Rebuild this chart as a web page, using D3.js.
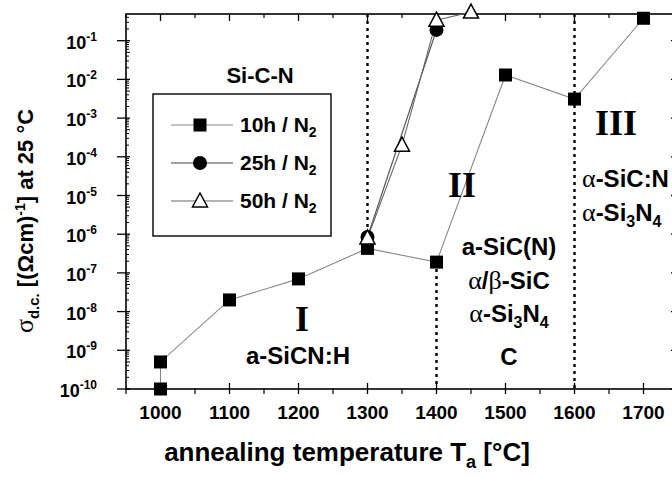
<!DOCTYPE html>
<html><head><meta charset="utf-8">
<script src="https://cdn.jsdelivr.net/npm/d3@7"></script>
<style>
html,body{margin:0;padding:0;background:#fff;}
svg text{font-family:"Liberation Sans",Arial,Helvetica,sans-serif;font-weight:bold;fill:#000;}
.serif{font-family:"Liberation Serif","Times New Roman",serif;font-weight:normal;}
.rom{font-family:"Liberation Serif","Times New Roman",serif;font-weight:bold;}
</style></head>
<body>
<svg id="c" width="672" height="477"></svg>
<script>
// ---- data ----
const temps10 = [1000, 1000, 1100, 1200, 1300, 1400, 1500, 1600, 1700];
const sigma10 = [1e-10, 5e-10, 2e-8, 7e-8, 4.3e-7, 1.9e-7, 1.3e-2, 3.1e-3, 0.38];
const temps25 = [1300, 1400];
const sigma25 = [8.5e-7, 0.19];
const temps50 = [1300, 1350, 1400, 1450];
const sigma50 = [8e-7, 2e-4, 0.34, 0.55];
const xTicks = [1000, 1100, 1200, 1300, 1400, 1500, 1600, 1700];
const yExponents = [-10, -9, -8, -7, -6, -5, -4, -3, -2, -1];
const seriesNames = ["10h / N", "25h / N", "50h / N"];
const boundaryTemps = [1300, 1400, 1600];

const svg = d3.select("#c");
const L = 126, R = 678, T = 14, B = 389;
const x = d3.scaleLinear().domain([950, 1750]).range([L, R]);
const y = d3.scaleLog().domain([1e-10, Math.pow(10, -0.31)]).range([B, T]);

// frame
svg.append("rect").attr("x", L).attr("y", T).attr("width", R - L).attr("height", B - T)
  .attr("fill", "none").attr("stroke", "#000").attr("stroke-width", 1.6);

// x ticks (bottom & top)
const minorX = d3.range(950, 1751, 50).filter(v => v % 100 !== 0);
const gx = svg.append("g");
xTicks.forEach(v => {
  gx.append("line").attr("x1", x(v)).attr("x2", x(v)).attr("y1", B - 6).attr("y2", B + 5).attr("stroke", "#000").attr("stroke-width", 1.3);
  gx.append("line").attr("x1", x(v)).attr("x2", x(v)).attr("y1", T).attr("y2", T + 7).attr("stroke", "#000").attr("stroke-width", 1.3);
  gx.append("text").attr("x", x(v)).attr("y", B + 30).attr("text-anchor", "middle").attr("font-size", 19).text(v);
});
minorX.forEach(v => {
  gx.append("line").attr("x1", x(v)).attr("x2", x(v)).attr("y1", B).attr("y2", B + 5).attr("stroke", "#000").attr("stroke-width", 1.2);
  gx.append("line").attr("x1", x(v)).attr("x2", x(v)).attr("y1", T).attr("y2", T + 4).attr("stroke", "#000").attr("stroke-width", 1.2);
});

// y ticks
const gy = svg.append("g");
yExponents.forEach(e => {
  const yy = y(Math.pow(10, e));
  gy.append("line").attr("x1", L - 9).attr("x2", L + 4).attr("y1", yy).attr("y2", yy).attr("stroke", "#000").attr("stroke-width", 1.3);
  gy.append("line").attr("x1", R - 7).attr("x2", R).attr("y1", yy).attr("y2", yy).attr("stroke", "#000").attr("stroke-width", 1.3);
  const t = gy.append("text").attr("x", 97).attr("y", yy + 8).attr("text-anchor", "end").attr("font-size", 18);
  t.append("tspan").text("10");
  t.append("tspan").attr("dy", -8).attr("font-size", 12).text(e);
  for (let m = 2; m <= 9; m++) {
    const v = m * Math.pow(10, e);
    if (v > y.domain()[1]) continue;
    const ym = y(v);
    gy.append("line").attr("x1", L).attr("x2", L + (m === 5 ? 4 : 3)).attr("y1", ym).attr("y2", ym).attr("stroke", "#000").attr("stroke-width", 1);
  }
});

// boundary dotted lines
const dot = {stroke: "#000", "stroke-width": 2.4, "stroke-dasharray": "3,4"};
function dline(x1, y1, y2) {
  const l = svg.append("line").attr("x1", x1).attr("x2", x1).attr("y1", y1).attr("y2", y2);
  Object.entries(dot).forEach(([k, v]) => l.attr(k, v));
}
dline(x(boundaryTemps[0]), T, y(sigma50[0]));
dline(x(boundaryTemps[1]), y(sigma10[5]), B);
dline(x(boundaryTemps[2]), T, B);

// series lines
const line = d3.line().x(d => x(d[0])).y(d => y(d[1]));
const d10 = temps10.map((t, i) => [t, sigma10[i]]);
const d25 = temps25.map((t, i) => [t, sigma25[i]]);
const d50 = temps50.map((t, i) => [t, sigma50[i]]);
svg.append("path").attr("d", line(d10)).attr("fill", "none").attr("stroke", "#888").attr("stroke-width", 1.1);
svg.append("path").attr("d", line(d25)).attr("fill", "none").attr("stroke", "#444").attr("stroke-width", 1.1);
svg.append("path").attr("d", line(d50)).attr("fill", "none").attr("stroke", "#666").attr("stroke-width", 1.1);

// markers
function square(g, cx, cy) { g.append("rect").attr("x", cx - 6.5).attr("y", cy - 6.5).attr("width", 13).attr("height", 13).attr("fill", "#000"); }
function circle(g, cx, cy) { g.append("circle").attr("cx", cx).attr("cy", cy).attr("r", 7).attr("fill", "#000"); }
function tri(g, cx, cy) { g.append("path").attr("d", `M${cx},${cy - 8}L${cx + 7.5},${cy + 6}L${cx - 7.5},${cy + 6}Z`).attr("fill", "#fff").attr("stroke", "#000").attr("stroke-width", 1.5); }
const gm = svg.append("g");
d10.forEach(d => square(gm, x(d[0]), y(d[1])));
d25.forEach(d => circle(gm, x(d[0]), y(d[1])));
d50.forEach(d => tri(gm, x(d[0]), y(d[1])));

// Legend
svg.append("text").attr("x", 260).attr("y", 83).attr("text-anchor", "middle").attr("font-size", 22).text("Si-C-N");
svg.append("rect").attr("x", 153).attr("y", 94).attr("width", 178).attr("height", 142).attr("fill", "#fff").attr("stroke", "#000").attr("stroke-width", 1.4);
const legY = [125, 163, 201];
const markers = [square, circle, tri];
const legStroke = ["#888", "#444", "#666"];
seriesNames.forEach((n, i) => {
  svg.append("line").attr("x1", 171).attr("x2", 233).attr("y1", legY[i]).attr("y2", legY[i]).attr("stroke", legStroke[i]).attr("stroke-width", 1.1);
  markers[i](svg, 200, legY[i]);
  const t = svg.append("text").attr("x", 240).attr("y", legY[i] + 7).attr("font-size", 21);
  t.append("tspan").text(n);
  t.append("tspan").attr("dy", 5).attr("font-size", 14).text("2");
});

// Region annotations
svg.append("text").attr("class", "rom").attr("x", 302).attr("y", 331).attr("text-anchor", "middle").attr("font-size", 36).text("I");
svg.append("text").attr("x", 298).attr("y", 364).attr("text-anchor", "middle").attr("font-size", 24).text("a-SiCN:H");
svg.append("text").attr("class", "rom").attr("x", 462).attr("y", 197).attr("text-anchor", "middle").attr("font-size", 36).text("II");
svg.append("text").attr("class", "rom").attr("x", 616).attr("y", 135).attr("text-anchor", "middle").attr("font-size", 36).text("III");

function chem(xp, yp, anchor, parts) {
  const t = svg.append("text").attr("x", xp).attr("y", yp).attr("text-anchor", anchor).attr("font-size", 24);
  parts.forEach(p => {
    const s = t.append("tspan").text(p[0]);
    if (p[1] === "g") s.attr("class", "serif").attr("font-size", 26);
    if (p[1] === "sub") s.attr("dy", 6).attr("font-size", 16);
    if (p[1] === "back") s.attr("dy", -6);
  });
}
chem(509, 255, "middle", [["a-SiC(N)"]]);
chem(509, 289, "middle", [["α", "g"], ["/"], ["β", "g"], ["-SiC"]]);
chem(509, 322, "middle", [["α", "g"], ["-Si"], ["3", "sub"], ["N", "back"], ["4", "sub"]]);
chem(509, 365, "middle", [["C"]]);
chem(582, 187, "start", [["α", "g"], ["-SiC:N"]]);
chem(582, 221, "start", [["α", "g"], ["-Si"], ["3", "sub"], ["N", "back"], ["4", "sub"]]);

// Axis titles
const xt = svg.append("text").attr("x", 347).attr("y", 461).attr("text-anchor", "middle").attr("font-size", 26);
xt.append("tspan").text("annealing temperature T");
xt.append("tspan").attr("dy", 7).attr("font-size", 18).text("a");
xt.append("tspan").attr("dy", -7).text(" [°C]");

const yt = svg.append("text").attr("transform", "translate(33,221) rotate(-90)").attr("text-anchor", "middle").attr("font-size", 22);
yt.append("tspan").attr("class", "serif").attr("font-size", 26).text("σ");
yt.append("tspan").attr("dy", 6).attr("font-size", 15).text("d.c.");
yt.append("tspan").attr("dy", -6).text(" [(Ωcm)");
yt.append("tspan").attr("dy", -8).attr("font-size", 14).text("-1");
yt.append("tspan").attr("dy", 8).text("] at 25 °C");
</script>
</body></html>
